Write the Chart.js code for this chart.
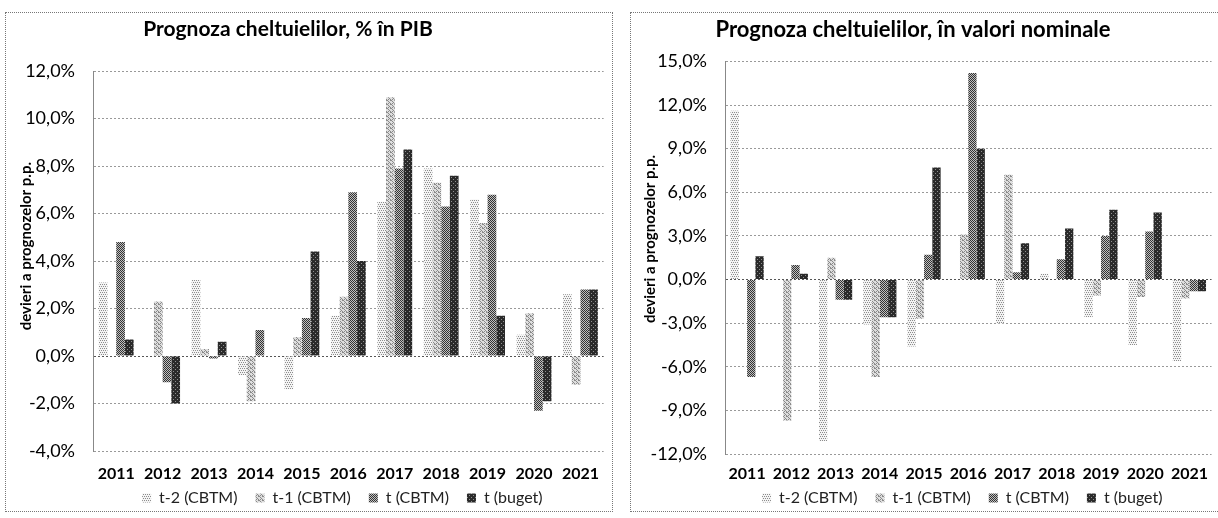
<!DOCTYPE html>
<html lang="ro">

<head>
  <meta charset="UTF-8">
  <title>Prognoza cheltuielilor</title>
  <style>
    body {
      margin: 0;
      background: #fff;
      font-family: Lato, sans-serif;
    }

    .frame {
      position: absolute;
      top: 12px;
      height: 500px;
      border: 1px dotted #777;
      box-sizing: border-box;
    }

    .box {
      position: absolute;
      top: 12px;
      height: 500px;
    }
  </style>
  <script src="https://cdn.jsdelivr.net/npm/chart.js"></script>
</head>

<body>
  <div class="frame" style="left:5px; width:608px;"></div>
  <div class="frame" style="left:630px; width:600px;"></div>
  <div class="box" style="left:6px; width:606px;"><canvas id="pibChart"></canvas></div>
  <div class="box" style="left:630px; width:588px;"><canvas id="nomChart"></canvas></div>

  <script>
    const years = ['2011', '2012', '2013', '2014', '2015', '2016', '2017', '2018', '2019', '2020', '2021'];
    const seriesNames = ['t-2 (CBTM)', 't-1 (CBTM)', 't (CBTM)', 't (buget)'];

    // deviations, % of GDP
    const pibT2 = [3.1, 0, 3.2, -0.8, -1.4, 1.7, 6.5, 7.9, 6.6, 0.9, 2.6];
    const pibT1 = [0, 2.3, 0.3, -1.9, 0.8, 2.5, 10.9, 7.3, 5.6, 1.8, -1.2];
    const pibT = [4.8, -1.1, -0.1, 1.1, 1.6, 6.9, 7.9, 6.3, 6.8, -2.3, 2.8];
    const pibBuget = [0.7, -2.0, 0.6, 0, 4.4, 4.0, 8.7, 7.6, 1.7, -1.9, 2.8];
    const pibRange = [-4, 12, 2];

    // deviations, nominal values
    const nomT2 = [11.6, 0, -11.1, -3.1, -4.6, 0, -3.0, 0.4, -2.6, -4.5, -5.6];
    const nomT1 = [0, -9.7, 1.5, -6.7, -2.7, 3.1, 7.2, 0, -1.1, -1.2, -1.3];
    const nomT = [-6.7, 1.0, -1.4, -2.6, 1.7, 14.2, 0.5, 1.4, 3.0, 3.3, -0.8];
    const nomBuget = [1.6, 0.4, -1.4, -2.6, 7.7, 9.0, 2.5, 3.5, 4.8, 4.6, -0.8];
    const nomRange = [-12, 15, 3];

    // grainy grey fills like the scanned original
    function hatch(bg, fg, dots) {
      const c = document.createElement('canvas');
      c.width = 4;
      c.height = 4;
      const g = c.getContext('2d');
      g.fillStyle = bg;
      g.fillRect(0, 0, 4, 4);
      g.fillStyle = fg;
      dots.forEach(d => g.fillRect(d[0], d[1], 1, 1));
      return g.createPattern(c, 'repeat');
    }

    const fills = [
      hatch('#f4f4f4', '#8c8c8c', [[0, 0], [2, 0], [1, 2], [3, 2]]),
      hatch('#dedede', '#8a8a8a', [[0, 0], [1, 0], [2, 1], [3, 2], [0, 3], [2, 3]]),
      hatch('#c0c0c0', '#333333', [[0, 0], [2, 0], [1, 1], [3, 1], [0, 2], [2, 2], [1, 3], [3, 3]]),
      hatch('#2a2a2a', '#8f8f8f', [[1, 1], [3, 3]])
    ];

    const pct = v => v.toFixed(1).replace('.', ',') + '%';
    const gap = n => '\u2002'.repeat(n);

    function datasets(values) {
      return values.map((vals, i) => ({
        label: seriesNames[i],
        data: vals,
        backgroundColor: fills[i],
        borderWidth: 0,
        categoryPercentage: 0.75,
        barPercentage: 1.0
      }));
    }

    // wider gaps between legend entries without making the legend taller
    function legendLabels(chart) {
      const items = Chart.defaults.plugins.legend.labels.generateLabels(chart);
      items.forEach(it => { it.text = it.text + '\u2003'; });
      return items;
    }

    function options(cfg) {
      return {
        responsive: true,
        maintainAspectRatio: false,
        animation: false,
        layout: { padding: 0 },
        plugins: {
          title: {
            display: true,
            text: cfg.title,
            color: '#000',
            font: { family: 'Lato', size: cfg.titleSize, weight: 'bold' },
            padding: { top: 5, bottom: cfg.titleGap }
          },
          legend: {
            position: 'bottom',
            fullSize: false,
            maxHeight: cfg.legendH,
            labels: {
              color: '#222',
              font: { family: 'Lato', size: 16 },
              boxWidth: 9,
              boxHeight: 9,
              padding: 6,
              generateLabels: legendLabels
            }
          },
          tooltip: { enabled: false }
        },
        scales: {
          x: {
            afterFit: s => { s.height = cfg.xH; },
            grid: { display: false, drawTicks: false },
            border: { display: false },
            ticks: {
              color: '#000',
              padding: cfg.xPad,
              font: { family: 'Lato', size: 16, weight: 'bold' }
            }
          },
          y: {
            min: cfg.range[0],
            max: cfg.range[1],
            afterFit: s => { s.width = cfg.yW; },
            grid: {
              drawTicks: false,
              color: c => c.tick && c.tick.value === 0 ? '#555' : '#999'
            },
            border: { display: true, color: '#888', dash: [2, 2] },
            ticks: {
              stepSize: cfg.range[2],
              padding: 18,
              color: '#000',
              font: { family: 'Lato', size: 18 },
              callback: v => pct(v)
            },
            title: {
              display: true,
              text: gap(cfg.yShift) + 'devieri a prognozelor p.p.',
              color: '#000',
              font: { family: 'Lato', size: 15, weight: 'bold' },
              padding: { top: 11, bottom: 0 }
            }
          }
        }
      };
    }

    new Chart(document.getElementById('pibChart'), {
      type: 'bar',
      data: { labels: years, datasets: datasets([pibT2, pibT1, pibT, pibBuget]) },
      options: options({
        title: 'Prognoza cheltuielilor, % în PIB' + gap(4), titleSize: 21, titleGap: 29,
        range: pibRange, yW: 87, xPad: 13, xH: 33, legendH: 28, yShift: 4
      })
    });

    new Chart(document.getElementById('nomChart'), {
      type: 'bar',
      data: { labels: years, datasets: datasets([nomT2, nomT1, nomT, nomBuget]) },
      options: options({
        title: 'Prognoza cheltuielilor, în valori nominale' + gap(2), titleSize: 22, titleGap: 18,
        range: nomRange, yW: 95, xPad: 10, xH: 30, legendH: 28, yShift: 5
      })
    });
  </script>
</body>

</html>
